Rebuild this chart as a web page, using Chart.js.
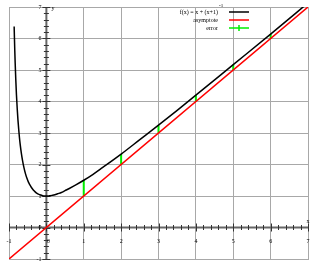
<!DOCTYPE html>
<html>
<head>
<meta charset="utf-8">
<script src="https://cdn.jsdelivr.net/npm/chart.js@4"></script>
<style>
  html, body { margin: 0; padding: 0; background: #fff; }
  #grafico { width: 320px; height: 267px; position: relative; }
</style>
</head>
<body>
<div id="grafico"><canvas id="lienzo"></canvas></div>
<script>
// f(x) = x + (x+1)^-1
const curvaX = [-0.862, -0.855, -0.845, -0.835, -0.82, -0.8, -0.78, -0.76, -0.74, -0.72, -0.7, -0.67, -0.64, -0.6, -0.56, -0.52, -0.48, -0.44, -0.4, -0.35, -0.3, -0.25, -0.2, -0.15, -0.1, -0.05, 0, 0.05, 0.1, 0.15, 0.2, 0.3, 0.4, 0.5, 0.6, 0.8, 1, 1.25, 1.5, 2, 2.5, 3, 3.5, 4, 5, 6, 7];
const curvaY = [6.38, 6.04, 5.6, 5.23, 4.74, 4.2, 3.77, 3.41, 3.11, 2.85, 2.63, 2.36, 2.14, 1.9, 1.71, 1.56, 1.44, 1.35, 1.27, 1.19, 1.13, 1.08, 1.05, 1.03, 1.01, 1.0, 1.0, 1.0, 1.01, 1.02, 1.03, 1.07, 1.11, 1.17, 1.23, 1.36, 1.5, 1.69, 1.9, 2.33, 2.79, 3.25, 3.72, 4.2, 5.17, 6.14, 7.13];

// asymptote y = x
const asintotaX = [-1, 7];
const asintotaY = [-1, 7];

// error bars between asymptote and f(x)
const errorX = [1, 2, 3, 4, 5, 6];
const errorBajo = [1, 2, 3, 4, 5, 6];
const errorAlto = [1.5, 2.33, 3.25, 4.2, 5.17, 6.14];

const marcasX = [-1, 0, 1, 2, 3, 4, 5, 6, 7];
const marcasY = [-1, 0, 1, 2, 3, 4, 5, 6, 7];

const etiquetas = ["f(x) = x + (x+1)", "asymptote", "error"];
const colores = ["#000000", "#ff0000", "#00ee00"];

const fuente = "6px 'Liberation Serif', 'DejaVu Serif', serif";

function puntos(xs, ys) {
    return xs.map((x, i) => ({ x: x, y: ys[i] }));
}

function puntosError() {
    const datos = [];
    errorX.forEach((x, i) => {
        datos.push({ x: x, y: errorBajo[i] });
        datos.push({ x: x, y: errorAlto[i] });
        datos.push({ x: x, y: null });
    });
    return datos;
}

// ejes por el origen, con marcas menores y etiquetas
const ejesPlugin = {
    id: "ejes",
    beforeDatasetsDraw(chart) {
        const ctx = chart.ctx;
        const sx = chart.scales.x, sy = chart.scales.y;
        const x0 = sx.getPixelForValue(0), y0 = sy.getPixelForValue(0);
        ctx.save();
        ctx.strokeStyle = "#666";
        ctx.lineWidth = 2;
        ctx.beginPath();
        ctx.moveTo(sx.left, y0); ctx.lineTo(sx.right, y0);
        ctx.moveTo(x0, sy.top); ctx.lineTo(x0, sy.bottom);
        ctx.stroke();

        ctx.lineWidth = 1;
        ctx.strokeStyle = "#333";
        ctx.beginPath();
        for (let v = -1; v <= 7.001; v += 0.2) {
            const mayor = Math.abs(v - Math.round(v)) < 0.01;
            const l = mayor ? 4 : 2.5;
            const px = Math.round(sx.getPixelForValue(v)) + 0.5;
            ctx.moveTo(px, y0 - l); ctx.lineTo(px, y0 + l);
            const py = Math.round(sy.getPixelForValue(v)) + 0.5;
            ctx.moveTo(x0 - l, py); ctx.lineTo(x0 + l, py);
        }
        ctx.stroke();

        ctx.fillStyle = "#000";
        ctx.font = fuente;
        ctx.textAlign = "center";
        ctx.textBaseline = "middle";
        marcasX.forEach(v => {
            ctx.fillText(String(v), sx.getPixelForValue(v) + (v === 0 ? 2 : 0), y0 + 14);
        });
        ctx.textAlign = "right";
        marcasY.forEach(v => {
            ctx.fillText(String(v), x0 - 5, sy.getPixelForValue(v));
        });
        ctx.textAlign = "left";
        ctx.fillText("y", x0 + 5, sy.getPixelForValue(7) + 1);
        ctx.textAlign = "center";
        ctx.fillText("x", sx.getPixelForValue(7), y0 - 6);
        ctx.restore();
    }
};

// leyenda con superindice
const leyendaPlugin = {
    id: "leyenda",
    afterDraw(chart) {
        const ctx = chart.ctx;
        ctx.save();
        ctx.font = fuente;
        ctx.textBaseline = "middle";
        const filas = [12, 20, 28];
        etiquetas.forEach((t, i) => {
            const y = filas[i];
            ctx.fillStyle = "#000";
            ctx.textAlign = "right";
            ctx.fillText(t, 218, y);
            if (i === 0) {
                ctx.textAlign = "left";
                ctx.font = "5px 'Liberation Serif', serif";
                ctx.fillText("-1", 219, y - 6);
                ctx.font = fuente;
            }
            ctx.strokeStyle = colores[i];
            ctx.lineWidth = 1.5;
            ctx.beginPath();
            ctx.moveTo(229, y); ctx.lineTo(249, y);
            if (i === 2) { ctx.moveTo(239, y - 3); ctx.lineTo(239, y + 3); }
            ctx.stroke();
        });
        ctx.restore();
    }
};

function crearGrafico(canvas) {
    const rejilla = {
        color: "#a8a8a8",
        lineWidth: 1,
        drawTicks: false
    };
    return new Chart(canvas, {
        type: "scatter",
        data: {
            datasets: [
                {
                    label: etiquetas[1],
                    data: puntos(asintotaX, asintotaY),
                    showLine: true,
                    borderColor: colores[1],
                    borderWidth: 1.5,
                    pointRadius: 0
                },
                {
                    label: etiquetas[0],
                    data: puntos(curvaX, curvaY),
                    showLine: true,
                    borderColor: colores[0],
                    borderWidth: 1.5,
                    borderJoinStyle: "round",
                    pointRadius: 0,
                    cubicInterpolationMode: "monotone"
                },
                {
                    label: etiquetas[2],
                    data: puntosError(),
                    showLine: true,
                    spanGaps: false,
                    borderColor: colores[2],
                    borderWidth: 2,
                    pointRadius: 0
                }
            ]
        },
        options: {
            responsive: true,
            maintainAspectRatio: false,
            animation: false,
            layout: { padding: { left: 9, right: 12, top: 7, bottom: 8 } },
            scales: {
                x: {
                    type: "linear", min: -1, max: 7,
                    ticks: { display: false, stepSize: 1 },
                    grid: rejilla,
                    border: { color: "#a8a8a8" }
                },
                y: {
                    type: "linear", min: -1, max: 7,
                    ticks: { display: false, stepSize: 1 },
                    grid: rejilla,
                    border: { color: "#a8a8a8" }
                }
            },
            plugins: {
                legend: { display: false },
                tooltip: { enabled: false }
            }
        },
        plugins: [ejesPlugin, leyendaPlugin]
    });
}

crearGrafico(document.getElementById("lienzo"));
</script>
</body>
</html>
